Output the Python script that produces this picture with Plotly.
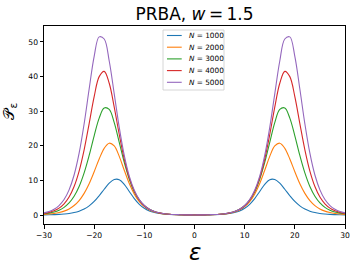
import plotly.graph_objects as go

# energy grid
eps = list(range(-30, 31))

# values (symmetric about 0)
p_1000 = [0.04, 0.07, 0.11, 0.17, 0.28, 0.44, 0.7, 1.11, 1.72, 2.63, 3.91, 5.56, 7.44, 9.18, 10.25, 10.21,
          8.86, 6.8, 4.74, 3.09, 1.93, 1.17, 0.7, 0.41, 0.24, 0.14, 0.08, 0.05, 0.03, 0.02, 0.01,
          0.02, 0.03, 0.05, 0.08, 0.14, 0.24, 0.41, 0.7, 1.17, 1.93, 3.09, 4.74, 6.8, 8.86, 10.21,
          10.25, 9.18, 7.44, 5.56, 3.91, 2.63, 1.72, 1.11, 0.7, 0.44, 0.28, 0.17, 0.11, 0.07, 0.04]
p_2000 = [0.18, 0.28, 0.45, 0.71, 1.12, 1.76, 2.73, 4.17, 6.25, 9.04, 12.50, 16.18, 19.26, 20.75, 19.95, 16.93,
          12.92, 9.08, 6.02, 3.85, 2.40, 1.47, 0.89, 0.54, 0.32, 0.20, 0.12, 0.07, 0.04, 0.03, 0.02,
          0.03, 0.04, 0.07, 0.12, 0.20, 0.32, 0.54, 0.89, 1.47, 2.40, 3.85, 6.02, 9.08, 12.92, 16.93,
          19.95, 20.75, 19.26, 16.18, 12.50, 9.04, 6.25, 4.17, 2.73, 1.76, 1.12, 0.71, 0.45, 0.28, 0.18]
p_3000 = [0.34, 0.54, 0.87, 1.39, 2.20, 3.47, 5.40, 8.23, 12.17, 17.21, 22.89, 27.98, 30.92, 30.51, 26.70, 21.00,
          15.19, 10.34, 6.74, 4.28, 2.67, 1.65, 1.01, 0.62, 0.38, 0.23, 0.14, 0.08, 0.05, 0.03, 0.02,
          0.03, 0.05, 0.08, 0.14, 0.23, 0.38, 0.62, 1.01, 1.65, 2.67, 4.28, 6.74, 10.34, 15.19, 21.00,
          26.70, 30.51, 30.92, 27.98, 22.89, 17.21, 12.17, 8.23, 5.40, 3.47, 2.20, 1.39, 0.87, 0.54, 0.34]
p_4000 = [0.45, 0.74, 1.22, 1.99, 3.24, 5.2, 8.23, 12.69, 18.83, 26.41, 34.2, 39.98, 41.5, 38.07, 31.18, 23.26,
          16.17, 10.71, 6.86, 4.31, 2.67, 1.64, 1.0, 0.61, 0.37, 0.23, 0.14, 0.08, 0.05, 0.03, 0.02,
          0.03, 0.05, 0.08, 0.14, 0.23, 0.37, 0.61, 1.0, 1.64, 2.67, 4.31, 6.86, 10.71, 16.17, 23.26,
          31.18, 38.07, 41.5, 39.98, 34.2, 26.41, 18.83, 12.69, 8.23, 5.2, 3.24, 1.99, 1.22, 0.74, 0.45]
p_5000 = [0.6, 0.99, 1.65, 2.73, 4.47, 7.26, 11.55, 17.85, 26.35, 36.39, 45.84, 51.46, 50.85, 44.49, 35.01, 25.32,
          17.23, 11.24, 7.14, 4.45, 2.75, 1.68, 1.03, 0.63, 0.38, 0.23, 0.14, 0.09, 0.05, 0.03, 0.02,
          0.03, 0.05, 0.09, 0.14, 0.23, 0.38, 0.63, 1.03, 1.68, 2.75, 4.45, 7.14, 11.24, 17.23, 25.32,
          35.01, 44.49, 50.85, 51.46, 45.84, 36.39, 26.35, 17.85, 11.55, 7.26, 4.47, 2.73, 1.65, 0.99, 0.6]

series_names = ["<i>N</i> = 1000", "<i>N</i> = 2000", "<i>N</i> = 3000", "<i>N</i> = 4000", "<i>N</i> = 5000"]
series_values = [p_1000, p_2000, p_3000, p_4000, p_5000]
colors = ["#1f77b4", "#ff7f0e", "#2ca02c", "#d62728", "#9467bd"]

x_ticks = [-30, -20, -10, 0, 10, 20, 30]
y_ticks = [0, 10, 20, 30, 40, 50]

FONT = "DejaVu Sans"
W, H = 361, 271
ML, MR, MT, MB = 44, 11, 26, 47
PW, PH = W - ML - MR, H - MT - MB


def px2paper(px, py):
    return (px - ML) / PW, (H - MB - py) / PH


fig = go.Figure()
for name, vals, c in zip(series_names, series_values, colors):
    fig.add_trace(go.Scatter(x=eps, y=vals, mode="lines", name=name, showlegend=False,
                             line=dict(color=c, width=1.1, shape="spline", smoothing=1.0)))

fig.update_layout(
    width=W, height=H,
    margin=dict(l=ML, r=MR, t=MT, b=MB),
    plot_bgcolor="white", paper_bgcolor="white",
    font=dict(family=FONT, color="black"),
    title=dict(text="PRBA, <i>w</i>\u2009=\u20091.5", font=dict(size=17, family=FONT, color="black"),
               x=0.5, xref="paper", xanchor="center", y=0.950, yref="container", yanchor="middle"),
    showlegend=False,
)
axis_common = dict(showline=True, linecolor="black", linewidth=1, mirror=True,
                   ticks="outside", ticklen=3.5, tickwidth=0.8, tickcolor="black",
                   showgrid=False, zeroline=False, tickfont=dict(size=7.6, family=FONT, color="black"))
fig.update_xaxes(range=[-30, 30], tickvals=x_ticks, **axis_common)
fig.update_yaxes(range=[-2.6, 54.6], tickvals=y_ticks, **axis_common)

# legend box (drawn like matplotlib's upper-centre legend)
x0, y0 = px2paper(165, 30)
x1, y1 = px2paper(227, 90)
fig.add_shape(type="rect", xref="paper", yref="paper", x0=x0, y0=y1, x1=x1, y1=y0,
              line=dict(color="#cccccc", width=0.8), fillcolor="rgba(255,255,255,0.8)", layer="above")
entry_y = [35.5, 47.2, 58.9, 70.6, 82.3]
for name, c, ey in zip(series_names, colors, entry_y):
    lx0, ly = px2paper(169, ey)
    lx1, _ = px2paper(184, ey)
    fig.add_shape(type="line", xref="paper", yref="paper", x0=lx0, x1=lx1, y0=ly, y1=ly,
                  line=dict(color=c, width=1.1), layer="above")
    tx, _ = px2paper(189, ey)
    fig.add_annotation(text=name, xref="paper", yref="paper", x=tx, y=ly, showarrow=False,
                       xanchor="left", yanchor="middle", font=dict(size=7.3, family=FONT, color="black"))

fig.add_annotation(text="<i>ε</i>", xref="paper", yref="paper", x=0.5, y=-0.14,
                   showarrow=False, font=dict(size=23, family=FONT, color="black"),
                   xanchor="center", yanchor="middle")
lx, ly = px2paper(8, 111)
fig.add_annotation(text="𝒫<sub>ε</sub>", xref="paper", yref="paper", x=lx, y=ly,
                   showarrow=False, textangle=-90, font=dict(size=15, family=FONT, color="black"),
                   xanchor="center", yanchor="middle")

fig.write_html("out.html", config={"displayModeBar": False},
               post_script="document.body.style.margin='0';document.body.style.overflow='hidden';")
